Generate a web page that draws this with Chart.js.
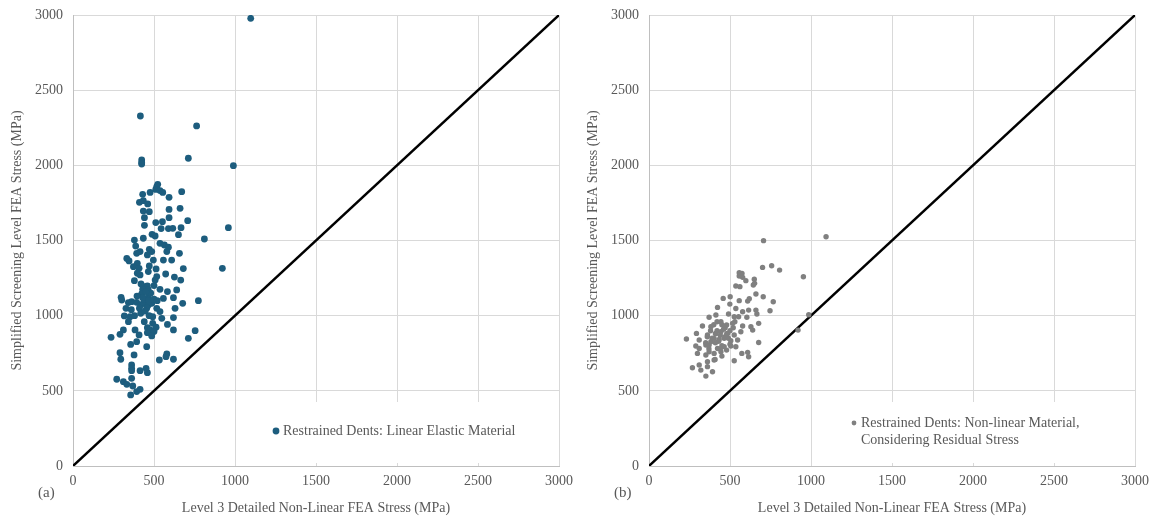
<!DOCTYPE html>
<html lang="en">
<head>
  <meta charset="utf-8"/>
  <title>Screening vs Level 3 FEA stress</title>
  <script src="https://cdn.jsdelivr.net/npm/chart.js"></script>
  <style>
    body { margin: 0; background: #fff; }
    .row { display: flex; width: 1153px; height: 521px; }
    .panel { position: relative; height: 521px; }
  </style>
</head>
<body>
  <div class="row">
    <div class="panel" style="width:576px"><canvas id="chartA"></canvas></div>
    <div class="panel" style="width:577px"><canvas id="chartB"></canvas></div>
  </div>

<script>
  // axis ticks (MPa)
  const tickValues = [0, 500, 1000, 1500, 2000, 2500, 3000];
  const unityLine = [0, 3000];

  // (a) linear elastic material: Level 3 FEA stress vs screening stress
  const elasticX = [416, 763, 1097, 424, 424, 424, 712, 990, 523, 517, 511, 537, 554, 476, 430, 593, 671, 410, 434, 461,
    434, 471, 593, 661, 441, 593, 708, 511, 552, 441, 544, 589, 616, 667, 959, 488, 507, 651, 434, 811,
    379, 537, 387, 564, 589, 471, 414, 393, 486, 579, 657, 459, 332, 346, 496, 558, 609, 397, 373, 471,
    408, 513, 681, 922, 397, 465, 414, 572, 517, 626, 507, 379, 665, 420, 441, 459, 430, 465, 537, 583,
    640, 297, 301, 424, 465, 558, 620, 774, 342, 362, 393, 418, 434, 465, 486, 327, 517, 537, 630, 677,
    317, 352, 418, 492, 548, 620, 342, 492, 583, 459, 513, 383, 311, 476, 620, 754, 290, 235, 408, 459,
    500, 486, 356, 393, 712, 455, 290, 295, 377, 533, 579, 574, 620, 362, 362, 362, 414, 451, 459, 270,
    311, 332, 362, 369, 414, 393, 356, 440, 455, 470, 445, 430, 480, 500, 410, 450, 395, 470, 440, 520,
    500, 380, 360];
  const elasticY = [2328, 2262, 2978, 2036, 2018, 2009, 2047, 1998, 1874, 1858, 1840, 1832, 1820, 1820, 1807, 1787, 1825, 1754, 1765, 1743,
    1696, 1692, 1707, 1714, 1652, 1652, 1632, 1619, 1625, 1601, 1579, 1579, 1581, 1585, 1585, 1541, 1530, 1539, 1515, 1510,
    1503, 1481, 1463, 1470, 1455, 1441, 1426, 1415, 1426, 1426, 1415, 1404, 1381, 1364, 1370, 1370, 1370, 1348, 1326, 1331,
    1315, 1311, 1313, 1315, 1282, 1293, 1271, 1277, 1260, 1257, 1237, 1233, 1237, 1211, 1193, 1198, 1175, 1171, 1175, 1160,
    1171, 1122, 1104, 1144, 1126, 1115, 1120, 1100, 1087, 1093, 1089, 1071, 1082, 1071, 1082, 1049, 1049, 1027, 1049, 1082,
    998, 993, 1016, 993, 982, 987, 960, 949, 942, 920, 923, 905, 905, 905, 905, 900, 876, 856, 872, 887,
    894, 865, 809, 827, 849, 794, 754, 710, 739, 705, 745, 727, 710, 672, 650, 634, 634, 650, 621, 577,
    561, 543, 583, 532, 510, 495, 473, 1110, 1050, 1100, 1030, 1120, 1150, 1110, 1050, 1160, 1130, 1000, 960, 1100,
    1200, 1000, 1040];

  // (b) non-linear material, considering residual stress
  const residualX = [707, 1093, 701, 757, 806, 953, 557, 574, 557, 578, 598, 650, 652, 536, 561, 644, 660, 705, 767, 619,
    609, 557, 501, 458, 423, 499, 536, 578, 615, 660, 747, 986, 920, 371, 413, 491, 526, 553, 604, 666,
    330, 382, 444, 479, 516, 578, 629, 677, 640, 293, 231, 310, 361, 413, 444, 485, 526, 567, 310, 289,
    351, 382, 402, 433, 464, 505, 547, 371, 423, 464, 505, 536, 299, 351, 402, 444, 479, 450, 677, 573,
    609, 615, 526, 402, 361, 310, 268, 320, 361, 392, 351, 408, 371, 420, 440, 460, 470, 390, 410, 430,
    450, 480, 500, 360, 380, 400, 420, 450, 470, 490, 370, 440, 500, 520, 530, 410, 350];
  const residualY = [1499, 1525, 1321, 1332, 1303, 1259, 1286, 1281, 1264, 1255, 1233, 1242, 1215, 1197, 1193, 1204, 1144, 1126, 1093, 1113,
    1097, 1100, 1126, 1115, 1055, 1077, 1048, 1026, 1037, 1037, 1033, 1006, 904, 989, 1004, 1011, 993, 993, 989, 1011,
    931, 927, 960, 938, 949, 931, 927, 949, 904, 882, 845, 838, 871, 882, 893, 882, 871, 893, 782, 798,
    805, 827, 849, 842, 849, 833, 838, 760, 782, 793, 798, 793, 749, 738, 749, 760, 771, 731, 822, 749,
    756, 727, 700, 705, 694, 672, 654, 638, 661, 627, 598, 709, 805, 900, 870, 910, 860, 850, 820, 830,
    800, 880, 900, 860, 900, 940, 960, 940, 920, 850, 780, 780, 810, 920, 960, 880, 820];

  const FONT = '"Liberation Serif", "DejaVu Serif", serif';
  const TEXT = '#595959';

  function pairs(xs, ys) {
    return xs.map((x, i) => ({ x: x, y: ys[i] }));
  }

  // white legend box + panel letter, drawn on the canvas
  function notePlugin(letter, lines, color, radius, boxLeft, markerDx, markerDy) {
    return {
      id: 'note' + letter,
      beforeDatasetsDraw(chart) {
        const { ctx, chartArea } = chart;
        ctx.save();
        ctx.fillStyle = '#fff';
        ctx.fillRect(chartArea.left + boxLeft, chartArea.bottom - 64, chartArea.right - chartArea.left - boxLeft, 61);
        ctx.restore();
      },
      afterDraw(chart) {
        const { ctx, chartArea } = chart;
        ctx.save();
        const mx = chartArea.left + markerDx;
        const my = chartArea.bottom - markerDy;
        ctx.fillStyle = color;
        ctx.beginPath();
        ctx.arc(mx, my, radius, 0, Math.PI * 2);
        ctx.fill();
        ctx.fillStyle = TEXT;
        ctx.font = '14px ' + FONT;
        ctx.textBaseline = 'middle';
        lines.forEach((t, i) => ctx.fillText(t, mx + 7, my + i * 17));
        ctx.font = '15px ' + FONT;
        ctx.fillText('(' + letter + ')', chartArea.left - 35, 493);
        ctx.restore();
      }
    };
  }

  function makeChart(id, pts, color, radius, label, note, padRight) {
    return new Chart(document.getElementById(id), {
      type: 'scatter',
      data: {
        datasets: [
          {
            label: label,
            data: pts,
            backgroundColor: color,
            borderWidth: 0,
            pointRadius: radius,
            pointHoverRadius: radius
          },
          {
            label: 'Unity',
            type: 'line',
            data: pairs(unityLine, unityLine),
            borderColor: '#000',
            borderWidth: 2.4,
            pointRadius: 0,
            fill: false
          }
        ]
      },
      options: {
        responsive: true,
        maintainAspectRatio: false,
        animation: false,
        layout: { padding: { top: 15, right: padRight, left: 0, bottom: 0 } },
        plugins: { legend: { display: false }, tooltip: { enabled: false } },
        scales: {
          x: {
            type: 'linear', min: 0, max: 3000,
            afterBuildTicks: s => { s.ticks = tickValues.map(v => ({ value: v })); },
            afterFit: s => { s.height = 55; s.paddingLeft = 0; s.paddingRight = 0; },
            grid: { color: '#d9d9d9', drawTicks: false },
            border: { color: '#bfbfbf' },
            ticks: { color: TEXT, font: { family: FONT, size: 14 }, padding: 7, maxRotation: 0,
              callback: v => String(v) },
            title: { display: true, text: 'Level 3 Detailed Non-Linear FEA Stress (MPa)', color: TEXT,
              font: { family: FONT, size: 14 }, padding: { top: 0, bottom: 4 } }
          },
          y: {
            type: 'linear', min: 0, max: 3000,
            afterBuildTicks: s => { s.ticks = tickValues.map(v => ({ value: v })); },
            afterFit: s => { s.width = 73; s.paddingTop = 0; s.paddingBottom = 0; },
            grid: { color: '#d9d9d9', drawTicks: false },
            border: { color: '#bfbfbf' },
            ticks: { color: TEXT, font: { family: FONT, size: 14 }, padding: 10,
              callback: v => String(v) },
            title: { display: true, text: 'Simplified Screening Level FEA Stress (MPa)', color: TEXT,
              font: { family: FONT, size: 14 }, padding: { top: 9, bottom: 0 } }
          }
        }
      },
      plugins: [note]
    });
  }

  makeChart('chartA', pairs(elasticX, elasticY), '#1d5d7e', 3.4,
    'Restrained Dents: Linear Elastic Material',
    notePlugin('a', ['Restrained Dents: Linear Elastic Material'], '#1d5d7e', 3.4, 163, 203, 35), 17);

  makeChart('chartB', pairs(residualX, residualY), '#808080', 2.7,
    'Restrained Dents: Non-linear Material, Considering Residual Stress',
    notePlugin('b', ['Restrained Dents: Non-linear Material,', 'Considering Residual Stress'], '#808080', 2.4, 188, 205, 43), 18);
</script>
</body>
</html>
